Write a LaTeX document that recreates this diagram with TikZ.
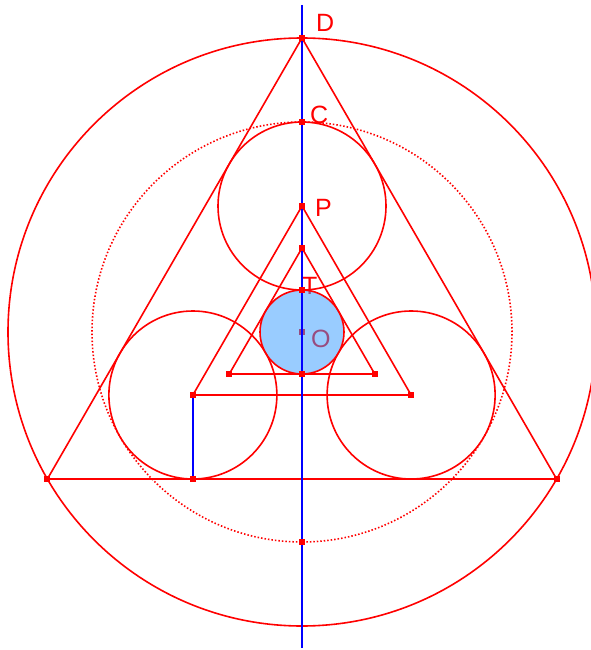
\documentclass[tikz,border=0pt]{standalone}
\usepackage{fontspec}
\setmainfont{Liberation Sans}
\usetikzlibrary{calc}
\begin{document}
\begin{tikzpicture}[x=1pt,y=1pt,
  redline/.style={draw=red,line width=1.6pt},
  blueline/.style={draw=blue,line width=2pt},
  dotline/.style={draw=red,line width=1.6pt,dash pattern=on 1.5pt off 2pt},
  ptmark/.style={fill=red,minimum size=6pt,inner sep=0pt,outer sep=0pt,draw=none,rectangle},
  lbl/.style={text=red,anchor=base west,inner sep=0pt,font=\fontsize{25}{30}\selectfont}]
\useasboundingbox (0,0) rectangle (590,-650);
\coordinate (O) at (302,-332);
% big circle and triangle
\coordinate (D) at ($(O)+(90:294)$);
\coordinate (BL) at ($(O)+(210:294)$);
\coordinate (BR) at ($(O)+(330:294)$);
\draw[redline] (O) circle (294);
\draw[redline] (D) -- (BL) -- (BR) -- cycle;
% dotted circle
\draw[dotline] (O) circle (210);
% three circles
\coordinate (P) at ($(O)+(90:126)$);
\coordinate (L) at ($(O)+(210:126)$);
\coordinate (R) at ($(O)+(330:126)$);
\draw[redline] (P) circle (84);
\draw[redline] (L) circle (84);
\draw[redline] (R) circle (84);
\draw[redline] (P) -- (L) -- (R) -- cycle;
% inner triangle
\coordinate (IA) at ($(O)+(90:84)$);
\coordinate (IB) at ($(O)+(210:84)$);
\coordinate (IC) at ($(O)+(330:84)$);
\draw[redline] (IA) -- (IB) -- (IC) -- cycle;
% other points
\coordinate (C) at ($(O)+(90:210)$);
\coordinate (T) at ($(O)+(90:42)$);
\coordinate (Tb) at ($(O)+(270:42)$);
\coordinate (Db) at ($(O)+(270:210)$);
\coordinate (F) at (L |- BL);
\coordinate (top) at (302,-5);
\coordinate (bot) at (302,-648);
% O marker and label (under the fill)
\node[ptmark] (mO) at (O) {};
\node[lbl] (lO) at (311,-347) {O};
\node[lbl] (lT) at (302,-294) {T};
% filled incircle
\fill[fill={rgb,1:red,0.2;green,0.6;blue,1},fill opacity=0.5] (O) circle (42);
\draw[redline] (O) circle (42);
% blue lines
\draw[blueline] (top) -- (bot);
\draw[blueline] (L) -- (F);
% markers
\foreach \p in {D,BL,BR,C,P,L,R,IA,IB,IC,T,Tb,Db,F}
  \node[ptmark] at (\p) {};
% labels
\node[lbl] (lD) at (316,-32) {D};
\node[lbl] (lC) at (310,-124) {C};
\node[lbl] (lP) at (315,-216) {P};
\end{tikzpicture}
\end{document}
